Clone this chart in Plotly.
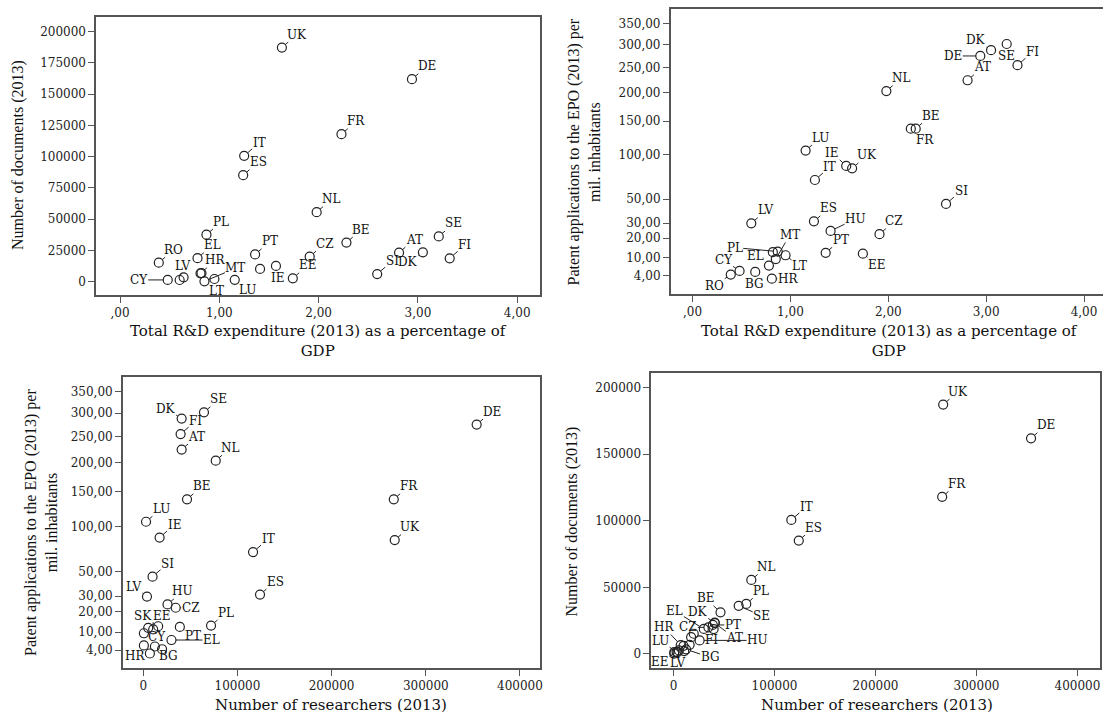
import numpy as np
import plotly.graph_objects as go

# ---------------- data ----------------
countries = ["AT", "BE", "BG", "CY", "CZ", "DE", "DK", "EE", "EL", "ES", "FI", "FR", "HR", "HU",
             "IE", "IT", "LT", "LU", "LV", "MT", "NL", "PL", "PT", "RO", "SE", "SI", "SK", "UK"]
rd_pct_gdp = [2.81, 2.28, 0.64, 0.48, 1.91, 2.94, 3.05, 1.74, 0.78, 1.24, 3.32, 2.23, 0.81, 1.41,
              1.57, 1.25, 0.95, 1.155, 0.60, 0.85, 1.98, 0.87, 1.36, 0.39, 3.21, 2.59, 0.82, 1.63]
documents = [23200, 31300, 3500, 1400, 20000, 162000, 23500, 2700, 18800, 85200, 18700, 118000, 6700, 10200,
             12600, 100700, 2150, 1500, 1340, 300, 55600, 37600, 21800, 15200, 36200, 6100, 6900, 187300]
patents_per_mil = [224, 138, 4.96, 5.26, 22.4, 275, 288, 11.8, 7.0, 31.2, 255, 138, 3.15, 24.5,
                   86, 69.5, 11.1, 106, 29.8, 9.5, 203, 12.8, 12.2, 4.2, 302, 45.5, 12.5, 83]
researchers = [40800, 46500, 12400, 700, 34500, 354000, 40800, 5300, 30000, 124000, 39700, 266000, 7100, 25800,
               17400, 116600, 10600, 3000, 4000, 700, 77000, 72000, 38900, 20000, 64500, 9900, 15900, 267000]

rd_ticks = [0, 1, 2, 3, 4]
rd_ticktext = [",00", "1,00", "2,00", "3,00", "4,00"]
doc_ticks_p1 = [0, 25000, 50000, 75000, 100000, 125000, 150000, 175000, 200000]
doc_ticks_p4 = [0, 50000, 100000, 150000, 200000]
pat_ticks = [4, 10, 20, 30, 50, 100, 150, 200, 250, 300, 350]
pat_ticktext = ["4,00", "10,00", "20,00", "30,00", "50,00", "100,00", "150,00",
                "200,00", "250,00", "300,00", "350,00"]
res_ticks = [0, 100000, 200000, 300000, 400000]

title_rd = "Total R&D expenditure (2013) as a percentage of<br>GDP"
title_docs = "Number of documents (2013)"
title_pat = "Patent applications to the EPO (2013) per<br>mil. inhabitants"
title_res = "Number of researchers (2013)"

# ---------------- styling / label placement ----------------
W, H = 1106, 716
DEF = (15, -13)
labels_p1 = {c: DEF for c in ["UK", "DE", "FR", "IT", "ES", "NL", "PL", "BE", "SE", "FI", "CZ", "PT",
                              "EE", "RO", "EL", "AT", "SI", "HR"]}
labels_p1.update({"DK": (-15, 10), "IE": (2, 12), "LU": (13, 10), "LT": (2, 12), "MT": (31, -13),
                  "LV": (3, -14), "CY": (-29, 0)})
labels_p2 = {c: DEF for c in ["FI", "AT", "NL", "BE", "LU", "UK", "IT", "SI", "LV", "ES", "CZ", "PT"]}
labels_p2.update({"DK": (-15, -10), "SE": (0, 12), "DE": (-27, 0), "FR": (14, 11), "IE": (-14, -13),
                  "HU": (25, -12), "EE": (14, 11), "MT": (14, -24), "PL": (-43, -4), "EL": (-13, -10),
                  "LT": (14, 11), "CY": (-16, -11), "RO": (-16, 11), "BG": (-1, 12), "HR": (16, 0)})
labels_p3 = {c: DEF for c in ["SE", "FI", "AT", "NL", "DE", "BE", "FR", "LU", "IE", "UK", "IT", "SI",
                              "ES", "PL", "HU"]}
labels_p3.update({"DK": (-16, -10), "CZ": (15, 0), "LV": (-13, -10), "SK": (-15, -10), "EE": (14, -12),
                  "CY": (13, -8), "PT": (13, 9), "EL": (40, 0), "HR": (-15, 3), "BG": (14, 10)})
labels_p4 = {c: DEF for c in ["UK", "DE", "FR", "IT", "ES", "NL", "PL"]}
labels_p4.update({"SE": (23, 10), "BE": (-15, -14), "EL": (-29, -18), "DK": (-17, -11), "PT": (20, 0),
                  "HR": (-17, -18), "CZ": (-20, 0), "LU": (-16, -11), "FI": (-2, 11), "AT": (20, 15),
                  "HU": (58, 0), "BG": (24, 8), "EE": (-19, 12), "LV": (0, 11)})

SERIF = "DejaVu Serif"
TITLE_FONT = dict(family="Liberation Serif", size=16, color="#111")
HTITLE_FONT = dict(family=SERIF, size=15, color="#111")
TICK_FONT = dict(family=SERIF, size=12, color="#222")
LABEL_FONT = dict(family=SERIF, size=12, color="#111")


def px_x(p):
    return p / W


def px_y(p):
    return 1 - p / H


sqrt_pat = np.sqrt(np.array(patents_per_mil, dtype=float))

panels = [
    ("", rd_pct_gdp, documents, [-0.241, 4.233], [-10900, 212000], labels_p1),
    ("2", rd_pct_gdp, sqrt_pat, [-0.224, 4.194], [0.757, 19.685], labels_p2),
    ("3", researchers, sqrt_pat, [-21600, 421600], [0.816, 19.68], labels_p3),
    ("4", researchers, documents, [-22100, 422300], [-10750, 210800], labels_p4),
]

fig = go.Figure()
annotations = []
for suf, xv, yv, xr, yr, labs in panels:
    xa = "x" + suf
    ya = "y" + suf
    fig.add_trace(go.Scatter(x=list(xv), y=list(yv), mode="markers", xaxis=xa, yaxis=ya,
                             text=countries, hoverinfo="text",
                             marker=dict(symbol="circle-open", size=9, color="#222",
                                         line=dict(width=1.2, color="#222")),
                             showlegend=False))
    for c, (dx, dy) in labs.items():
        i = countries.index(c)
        annotations.append(dict(x=xv[i], y=yv[i], xref=xa, yref=ya, text=c, showarrow=True,
                                arrowhead=0, arrowwidth=1, arrowcolor="#222", standoff=4.5,
                                ax=dx, ay=dy, font=LABEL_FONT, borderpad=0))

axis_common = dict(showgrid=False, zeroline=False, showline=True, linecolor="#555", linewidth=1.5,
                   ticks="outside", ticklen=6, tickwidth=1, tickcolor="#555", tickfont=TICK_FONT)

layout = dict(width=W, height=H, margin=dict(l=0, r=0, t=0, b=0), paper_bgcolor="white",
              plot_bgcolor="white", showlegend=False)

layout["xaxis"] = dict(axis_common, domain=[px_x(96.4), px_x(541.8)], range=panels[0][3],
                       tickvals=rd_ticks, ticktext=rd_ticktext, anchor="y", mirror=True)
layout["yaxis"] = dict(axis_common, domain=[px_y(295.3), px_y(16.7)], range=panels[0][4],
                       tickvals=doc_ticks_p1, ticktext=[str(v) for v in doc_ticks_p1], anchor="x", mirror=True)
layout["xaxis2"] = dict(axis_common, domain=[px_x(672.5), 1.0], range=panels[1][3],
                        tickvals=rd_ticks, ticktext=rd_ticktext, anchor="y2", mirror=True)
layout["yaxis2"] = dict(axis_common, domain=[px_y(294.0), px_y(9.3)], range=panels[1][4],
                        tickvals=list(np.sqrt(pat_ticks)), ticktext=pat_ticktext, anchor="x2", mirror=False)
layout["xaxis3"] = dict(axis_common, domain=[px_x(123.2), px_x(541.8)], range=panels[2][3],
                        tickvals=res_ticks, ticktext=[str(v) for v in res_ticks], anchor="y3", mirror=True)
layout["yaxis3"] = dict(axis_common, domain=[px_y(668.3), px_y(376.7)], range=panels[2][4],
                        tickvals=list(np.sqrt(pat_ticks)), ticktext=pat_ticktext, anchor="x3", mirror=True)
layout["xaxis4"] = dict(axis_common, domain=[px_x(653.0), px_x(1103.0)], range=panels[3][3],
                        tickvals=res_ticks, ticktext=[str(v) for v in res_ticks], anchor="y4", mirror=True)
layout["yaxis4"] = dict(axis_common, domain=[px_y(668.3), px_y(373.3)], range=panels[3][4],
                        tickvals=doc_ticks_p4, ticktext=[str(v) for v in doc_ticks_p4], anchor="x4", mirror=True)


def title_ann(text, cx, cy, font, angle=0):
    return dict(text=text, x=px_x(cx), y=px_y(cy), xref="paper", yref="paper", showarrow=False,
                xanchor="center", yanchor="middle", textangle=angle, font=font)


annotations += [
    title_ann(title_rd, 319, 341, HTITLE_FONT),
    title_ann(title_docs, 18, 155, TITLE_FONT, -90),
    title_ann(title_rd, 892, 341, HTITLE_FONT),
    title_ann(title_pat, 586, 152, TITLE_FONT, -90),
    title_ann(title_pat, 41, 522, TITLE_FONT, -90),
    title_ann(title_res, 332, 705, HTITLE_FONT),
    title_ann(title_docs, 574, 521, TITLE_FONT, -90),
    title_ann(title_res, 879, 705, HTITLE_FONT),
]
layout["annotations"] = annotations
fig.update_layout(**layout)
fig.write_html("out.html", config={"displayModeBar": False},
               post_script="document.body.style.margin='0';document.body.style.overflow='hidden';")
